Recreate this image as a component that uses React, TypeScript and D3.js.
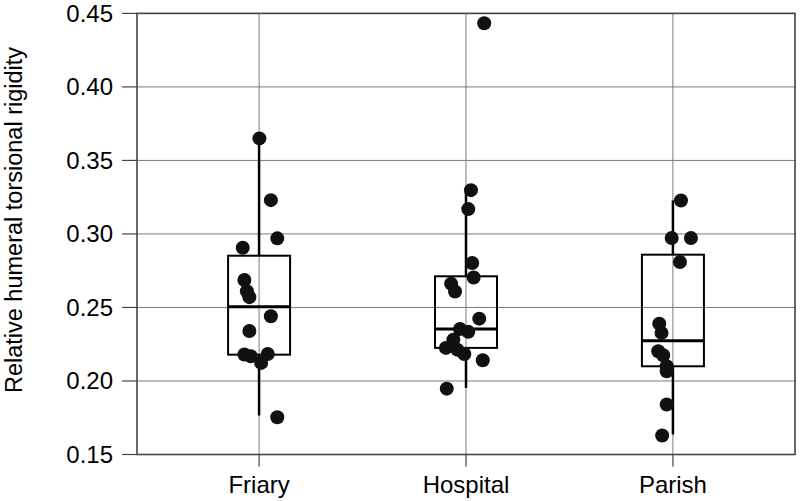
import React from "react";
import * as d3 from "d3";

const categories = ["Friary", "Hospital", "Parish"];
const yTicks = [0.15, 0.2, 0.25, 0.3, 0.35, 0.4, 0.45];

// box stats: [whiskerLow, q1, median, q3, whiskerHigh]
const friaryBox = [0.1765, 0.2179, 0.2505, 0.2852, 0.365];
const hospitalBox = [0.1953, 0.2225, 0.2354, 0.2712, 0.33];
const parishBox = [0.1636, 0.21, 0.2274, 0.2859, 0.3228];

const friaryValues = [0.365, 0.323, 0.297, 0.2906, 0.2687, 0.261, 0.257, 0.244, 0.234, 0.218, 0.2168, 0.2123, 0.2184, 0.1753];
const friaryJitter = [0.0015, 0.057, 0.088, -0.079, -0.071, -0.059, -0.047, 0.057, -0.047, -0.071, -0.04, 0.01, 0.042, 0.088];

const hospitalValues = [0.4433, 0.3298, 0.3169, 0.2802, 0.2704, 0.2662, 0.2609, 0.2424, 0.2354, 0.2334, 0.2281, 0.2225, 0.2213, 0.2184, 0.2141, 0.1948];
const hospitalJitter = [0.088, 0.024, 0.011, 0.03, 0.037, -0.072, -0.053, 0.064, -0.029, 0.011, -0.061, -0.097, -0.042, -0.008, 0.081, -0.093];

const parishValues = [0.3228, 0.2972, 0.2972, 0.2809, 0.239, 0.2327, 0.2202, 0.2175, 0.21, 0.2066, 0.184, 0.1629];
const parishJitter = [0.039, -0.006, 0.087, 0.034, -0.066, -0.055, -0.071, -0.047, -0.03, -0.03, -0.03, -0.052];

const boxes = [friaryBox, hospitalBox, parishBox];
const valuesList = [friaryValues, hospitalValues, parishValues];
const jitterList = [friaryJitter, hospitalJitter, parishJitter];

const W = 800;
const H = 501;
const left = 137;
const right = 795;
const top = 13.4;
const bottom = 454.5;
const FONT = "'Liberation Sans', Arial, Helvetica, sans-serif";

export default function App() {
  const x = d3.scalePoint<string>().domain(categories).range([left, right]).padding(0.59);
  const y = d3.scaleLinear().domain([0.15, 0.45]).range([bottom, top]);
  const step = x.step();
  const boxW = 62;

  return (
    <svg width={W} height={H} style={{ position: "absolute", left: 0, top: 0, background: "#fff" }}>
      {/* grid */}
      {yTicks.map((t) => (
        <line key={"gy" + t} x1={left} x2={right} y1={y(t)} y2={y(t)} stroke="#7a7a7a" strokeWidth={1} />
      ))}
      {categories.map((c) => (
        <line key={"gx" + c} x1={x(c)} x2={x(c)} y1={top} y2={bottom} stroke="#7a7a7a" strokeWidth={1} />
      ))}
      {/* frame */}
      <rect x={left} y={top} width={right - left} height={bottom - top} fill="none" stroke="#444" strokeWidth={1.6} />
      {/* y ticks */}
      {yTicks.map((t) => (
        <g key={"yt" + t}>
          <line x1={left - 15} x2={left} y1={y(t)} y2={y(t)} stroke="#444" strokeWidth={1.2} />
          <text x={113} y={y(t)} dy="0.34em" textAnchor="end" fontFamily={FONT} fontSize={24} fill="#000">
            {d3.format(".2f")(t)}
          </text>
        </g>
      ))}
      {/* x ticks */}
      {categories.map((c) => (
        <g key={"xt" + c}>
          <line x1={x(c)} x2={x(c)} y1={bottom} y2={bottom + 12} stroke="#444" strokeWidth={1.2} />
          <text x={x(c)} y={493} textAnchor="middle" fontFamily={FONT} fontSize={24} fill="#000">
            {c}
          </text>
        </g>
      ))}
      {/* y title */}
      <text
        transform={`translate(21.5,220) rotate(-90)`}
        textAnchor="middle"
        fontFamily={FONT}
        fontSize={23.5}
        fill="#000"
      >
        Relative humeral torsional rigidity
      </text>
      {/* boxes */}
      {categories.map((c, i) => {
        const b = boxes[i];
        const cx = x(c) as number;
        return (
          <g key={"box" + c}>
            <line x1={cx} x2={cx} y1={y(b[0])} y2={y(b[1])} stroke="#000" strokeWidth={2.5} />
            <line x1={cx} x2={cx} y1={y(b[3])} y2={y(b[4])} stroke="#000" strokeWidth={2.5} />
            <rect x={cx - boxW / 2} y={y(b[3])} width={boxW} height={y(b[1]) - y(b[3])} fill="none" stroke="#000" strokeWidth={2} />
            <line x1={cx - boxW / 2} x2={cx + boxW / 2} y1={y(b[2])} y2={y(b[2])} stroke="#000" strokeWidth={3} />
          </g>
        );
      })}
      {/* points */}
      {categories.map((c, i) => (
        <g key={"pts" + c}>
          {valuesList[i].map((v, j) => (
            <circle key={j} cx={(x(c) as number) + jitterList[i][j] * step} cy={y(v)} r={7} fill="#111" />
          ))}
        </g>
      ))}
    </svg>
  );
}
